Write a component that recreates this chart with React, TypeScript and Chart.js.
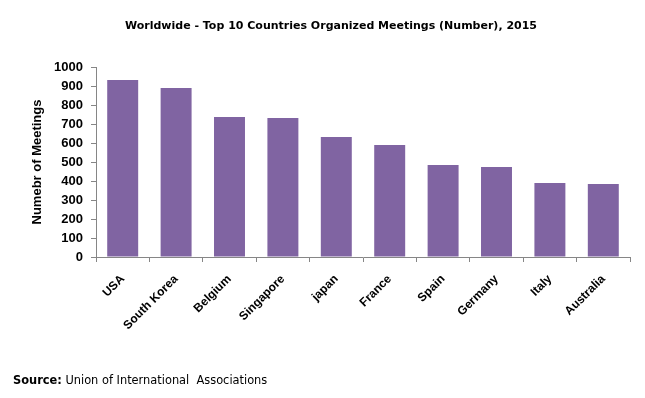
import React, { useEffect, useRef } from "react";
import { Chart, registerables } from "chart.js";

Chart.register(...registerables);

const countries = ["USA", "South Korea", "Belgium", "Singapore", "japan", "France", "Spain", "Germany", "Italy", "Australia"];
const meetings = [932, 889, 737, 732, 632, 589, 484, 474, 389, 384];
const titleText = "Worldwide - Top 10 Countries Organized Meetings (Number), 2015";
const yAxisTitle = "Numebr of Meetings";

const W = 645;
const H = 398;

export default function App() {
  const ref = useRef<HTMLCanvasElement | null>(null);
  useEffect(() => {
    if (!ref.current) return;
    const chart = new Chart(ref.current, {
      type: "bar",
      data: {
        labels: countries,
        datasets: [
          {
            data: meetings,
            backgroundColor: "#8064A2",
            borderWidth: 0,
            barPercentage: 0.58,
            categoryPercentage: 1,
          },
        ],
      },
      options: {
        animation: false,
        responsive: false,
        maintainAspectRatio: false,
        layout: { padding: { top: 67, right: 15, bottom: 0, left: 0 } },
        plugins: {
          legend: { display: false },
          tooltip: { enabled: false },
          title: { display: false },
        },
        scales: {
          x: {
            grid: { display: true, drawOnChartArea: false, drawTicks: true, tickLength: 5, color: "#868686", offset: true },
            border: { color: "#868686" },
            ticks: {
              color: "#000",
              font: { family: "Liberation Sans", size: 12, weight: "bold" },
              minRotation: 45,
              maxRotation: 45,
              autoSkip: false,
              padding: 10,
            },
            afterFit: (s: any) => { s.height = H - 257; },
          },
          y: {
            min: 0,
            max: 1000,
            grid: { display: true, drawOnChartArea: false, drawTicks: true, tickLength: 5, color: "#868686" },
            border: { color: "#868686" },
            ticks: {
              stepSize: 100,
              color: "#000",
              font: { family: "Liberation Sans", size: 13, weight: "bold" },
              padding: 8,
              callback: (v: any) => String(v),
            },
            title: {
              display: true,
              text: yAxisTitle,
              color: "#000",
              font: { family: "Liberation Sans", size: 13, weight: "bold" },
              padding: { top: 30, bottom: 0 },
            },
            afterFit: (s: any) => { s.width = 96; },
          },
        },
      },
    });
    return () => chart.destroy();
  }, []);
  return (
    <div style={{ position: "fixed", left: 0, top: 0, width: W, height: H, background: "#fff" }}>
      <canvas ref={ref} width={W} height={H} style={{ display: "block" }} />
      <div
        style={{
          position: "absolute",
          left: 122,
          width: 418,
          top: 19,
          textAlign: "center",
          fontFamily: "DejaVu Sans",
          fontSize: 11,
          fontWeight: "bold",
          color: "#000",
          whiteSpace: "pre",
        }}
      >
        {titleText}
      </div>
      <div
        style={{
          position: "absolute",
          left: 13,
          top: 373,
          fontFamily: "DejaVu Sans",
          fontSize: 11.4,
          color: "#000",
          whiteSpace: "pre",
        }}
      >
        <b>Source:</b> Union of International  Associations
      </div>
    </div>
  );
}
